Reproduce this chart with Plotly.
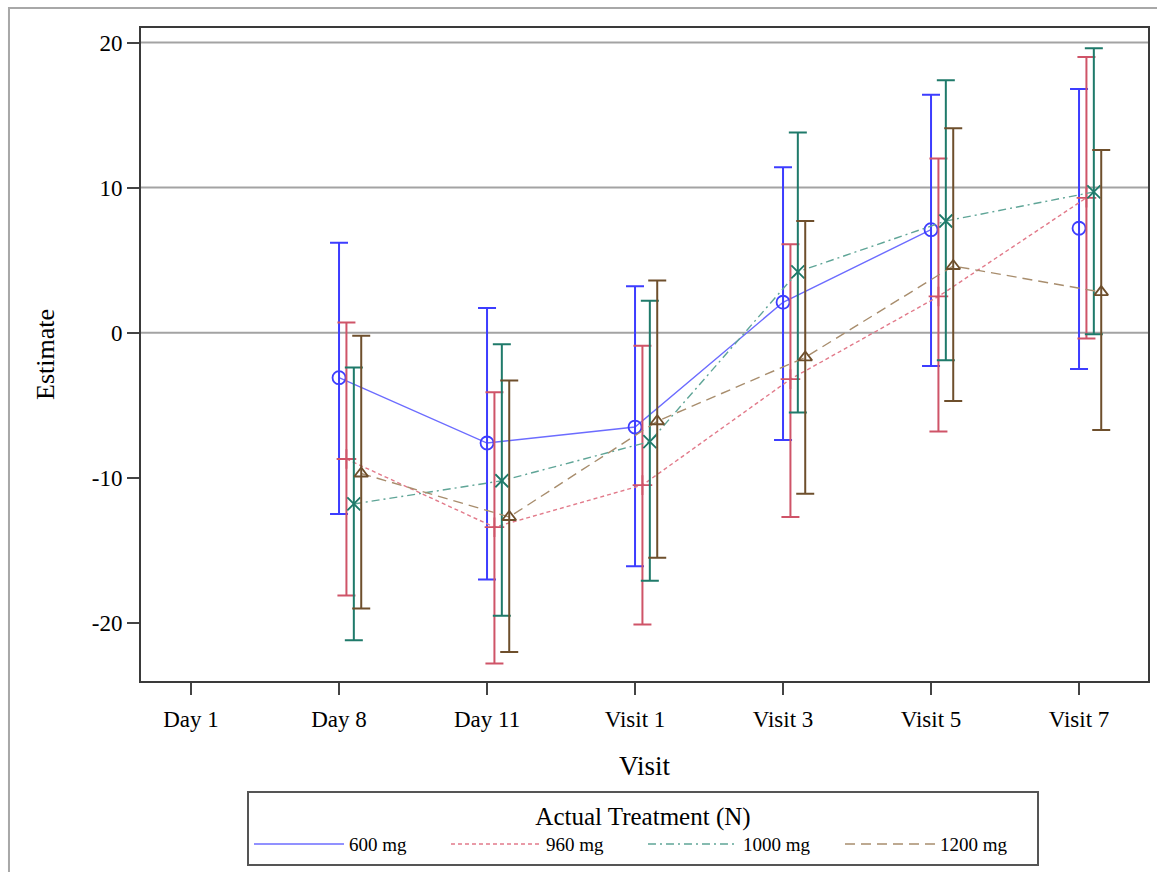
import plotly.graph_objects as go

# ---------------- data ----------------
categories = ["Day 1", "Day 8", "Day 11", "Visit 1", "Visit 3", "Visit 5", "Visit 7"]
treatments = ["600 mg", "960 mg", "1000 mg", "1200 mg"]

mean_600 = [None, -3.1, -7.6, -6.5, 2.1, 7.1, 7.2]
lower_600 = [None, -12.5, -17.0, -16.1, -7.4, -2.3, -2.5]
upper_600 = [None, 6.2, 1.7, 3.2, 11.4, 16.4, 16.8]

mean_960 = [None, -8.7, -13.4, -10.5, -3.2, 2.5, 9.3]
lower_960 = [None, -18.1, -22.8, -20.1, -12.7, -6.8, -0.4]
upper_960 = [None, 0.7, -4.1, -0.9, 6.1, 12.0, 19.0]

mean_1000 = [None, -11.8, -10.2, -7.5, 4.2, 7.7, 9.7]
lower_1000 = [None, -21.2, -19.5, -17.1, -5.5, -1.9, -0.1]
upper_1000 = [None, -2.4, -0.8, 2.2, 13.8, 17.4, 19.6]

mean_1200 = [None, -9.7, -12.7, -6.1, -1.7, 4.6, 2.8]
lower_1200 = [None, -19.0, -22.0, -15.5, -11.1, -4.7, -6.7]
upper_1200 = [None, -0.2, -3.3, 3.6, 7.7, 14.1, 12.6]

# visits where the connecting line is not drawn (line segment into that visit missing)
line_gaps = {"600 mg": ["Visit 7"]}

reference_lines = [0, 10, 20]
y_ticks = [-20, -10, 0, 10, 20]
y_tick_labels = ["-20", "-10", "0", "10", "20"]

# ---------------- styles ----------------
series = {
    "600 mg": (mean_600, lower_600, upper_600),
    "960 mg": (mean_960, lower_960, upper_960),
    "1000 mg": (mean_1000, lower_1000, upper_1000),
    "1200 mg": (mean_1200, lower_1200, upper_1200),
}
styles = {
    "600 mg": dict(offset=0.0, bar="#3d3dff", line="#6c6cff", dash="solid",
                   symbol="circle-open", size=13),
    "960 mg": dict(offset=0.05, bar="#cf5468", line="#e27a8a", dash="4px,3px",
                   symbol="cross-thin-open", size=14),
    "1000 mg": dict(offset=0.10, bar="#1f7a6a", line="#5fa597", dash="8px,4px,2px,4px",
                    symbol="x-thin-open", size=13),
    "1200 mg": dict(offset=0.15, bar="#6e4f2c", line="#a88d6d", dash="10px,6px",
                    symbol="triangle-up-open", size=12),
}

FONT = "Liberation Serif, Times New Roman, serif"

fig = go.Figure()

for t in treatments:
    mean, lo, hi = series[t]
    st = styles[t]
    xs = [i + st["offset"] for i in range(len(categories))]
    plus = [None if m is None else h - m for m, h in zip(mean, hi)]
    minus = [None if m is None else m - l for m, l in zip(mean, lo)]
    gaps = line_gaps.get(t, [])
    line_y = [None if c in gaps else m for c, m in zip(categories, mean)]
    # connecting line (legend entry)
    fig.add_trace(go.Scatter(
        x=xs, y=line_y, mode="lines", name=t, connectgaps=False,
        line=dict(color=st["line"], width=1.4, dash=st["dash"]),
        hoverinfo="skip",
    ))
    # markers with error bars
    fig.add_trace(go.Scatter(
        x=xs, y=mean, mode="markers", name=t, showlegend=False,
        marker=dict(symbol=st["symbol"], size=st["size"], color=st["bar"],
                    line=dict(color=st["bar"], width=1.8)),
        error_y=dict(type="data", symmetric=False, array=plus, arrayminus=minus,
                     color=st["bar"], thickness=2, width=9),
    ))

for r in reference_lines:
    fig.add_hline(y=r, line=dict(color="#a3a3a3", width=2), layer="below")

# outer frame of the graph
fig.add_shape(type="rect", xref="paper", yref="paper",
              x0=-0.1311, x1=1.02, y0=-0.31, y1=1.0306,
              line=dict(color="#a8a8a8", width=2), fillcolor="rgba(0,0,0,0)")

fig.update_layout(
    width=1157, height=872,
    margin=dict(l=141, r=9, t=28, b=191, autoexpand=False),
    paper_bgcolor="white", plot_bgcolor="white",
    font=dict(family=FONT, color="black", size=23),
    xaxis=dict(
        range=[-0.338, 6.466], tickmode="array",
        tickvals=list(range(len(categories))), ticktext=categories,
        showgrid=False, zeroline=False, automargin=False,
        showline=True, mirror=True, linecolor="#3a3a3a", linewidth=2,
        ticks="outside", ticklen=12, tickwidth=2, tickcolor="#444",
        tickfont=dict(size=23), ticklabelstandoff=4,
        title=dict(text="Visit", font=dict(size=27), standoff=26),
    ),
    yaxis=dict(
        range=[-24, 21], tickmode="array", tickvals=y_ticks, ticktext=y_tick_labels,
        showgrid=False, zeroline=False, automargin=False,
        showline=True, mirror=True, linecolor="#3a3a3a", linewidth=2,
        ticks="outside", ticklen=12, tickwidth=2, tickcolor="#444",
        tickfont=dict(size=23),
        title=dict(text="Estimate", font=dict(size=26), standoff=30),
    ),
    legend=dict(
        orientation="h", x=0.4985, xanchor="center", y=-0.168, yanchor="top",
        bordercolor="#555", borderwidth=2, bgcolor="white",
        title=dict(text="Actual Treatment (N)", side="top center", font=dict(size=25)),
        font=dict(size=19), itemwidth=90, entrywidth=92, tracegroupgap=0,
    ),
    showlegend=True,
)

fig.write_html("out.html")
